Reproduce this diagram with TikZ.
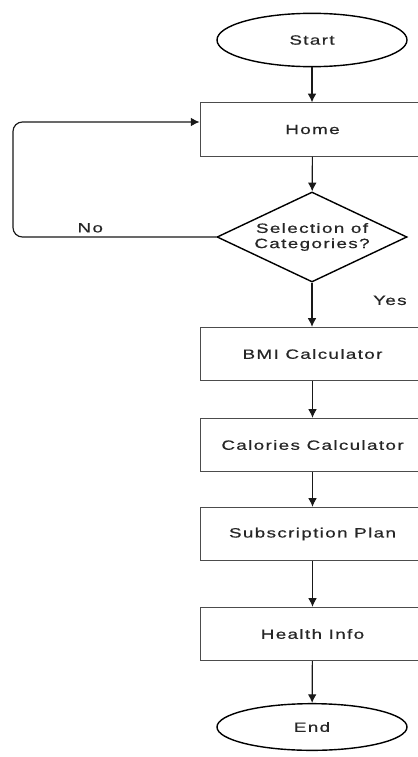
\documentclass[tikz,border=0pt]{standalone}
\usepackage{fontspec}
\newfontfamily\chartfont{Liberation Sans}[FakeStretch=1.4,LetterSpace=10,FakeBold=0.6]
\usetikzlibrary{shapes.geometric, arrows.meta}

\tikzset{
    term/.style={ellipse, draw=black, line width=1.2pt, minimum width=5.7cm, minimum height=1.6cm, inner sep=0pt},
    proc/.style={rectangle, draw=black!70, line width=0.8pt, minimum width=6.75cm, minimum height=1.6cm, inner sep=0pt},
    decide/.style={diamond, draw=black, line width=1.2pt, aspect=2.1, minimum width=5.7cm, minimum height=2.7cm, inner sep=0pt, align=center},
    flow/.style={-{Latex[length=2.6mm, width=2.6mm]}, line width=1pt, black!90}
}

\begin{document}
\begin{tikzpicture}[x=0.03cm, y=-0.03cm, every node/.style={font=\chartfont\fontsize{11.5}{13}\selectfont, text=black!85}]
    \useasboundingbox (0, 0) rectangle (417, 757);

    \node[term] (start) at (312, 40) {Start};
    \node[proc] (home) at (312.5, 129.5) {Home};
    \node[decide] (select) at (312, 237) {Selection of\\Categories?};
    \node[proc] (bmi) at (312.5, 354) {BMI Calculator};
    \node[proc] (cal) at (312.5, 445) {Calories Calculator};
    \node[proc] (sub) at (312.5, 534) {Subscription Plan};
    \node[proc] (health) at (312.5, 634) {Health Info};
    \node[term, minimum height=1.4cm] (end) at (312, 727) {End};

    \coordinate (back) at (13, 122);

    \draw[flow] (start) -- (home.north -| start.south);
    \draw[flow] (home) -- (select);
    \draw[flow] (select) -- (bmi.north -| select.south) node[pos=0.4, right=1.7cm] {Yes};
    \draw[flow] (bmi) -- (cal);
    \draw[flow] (cal) -- (sub);
    \draw[flow] (sub) -- (health);
    \draw[flow] (health) -- (end);
    \draw[flow, rounded corners=8] (select.west) -- (select.west -| back) node[pos=0.62, above] {No} -- (back) -- (back -| home.west);
\end{tikzpicture}
\end{document}
